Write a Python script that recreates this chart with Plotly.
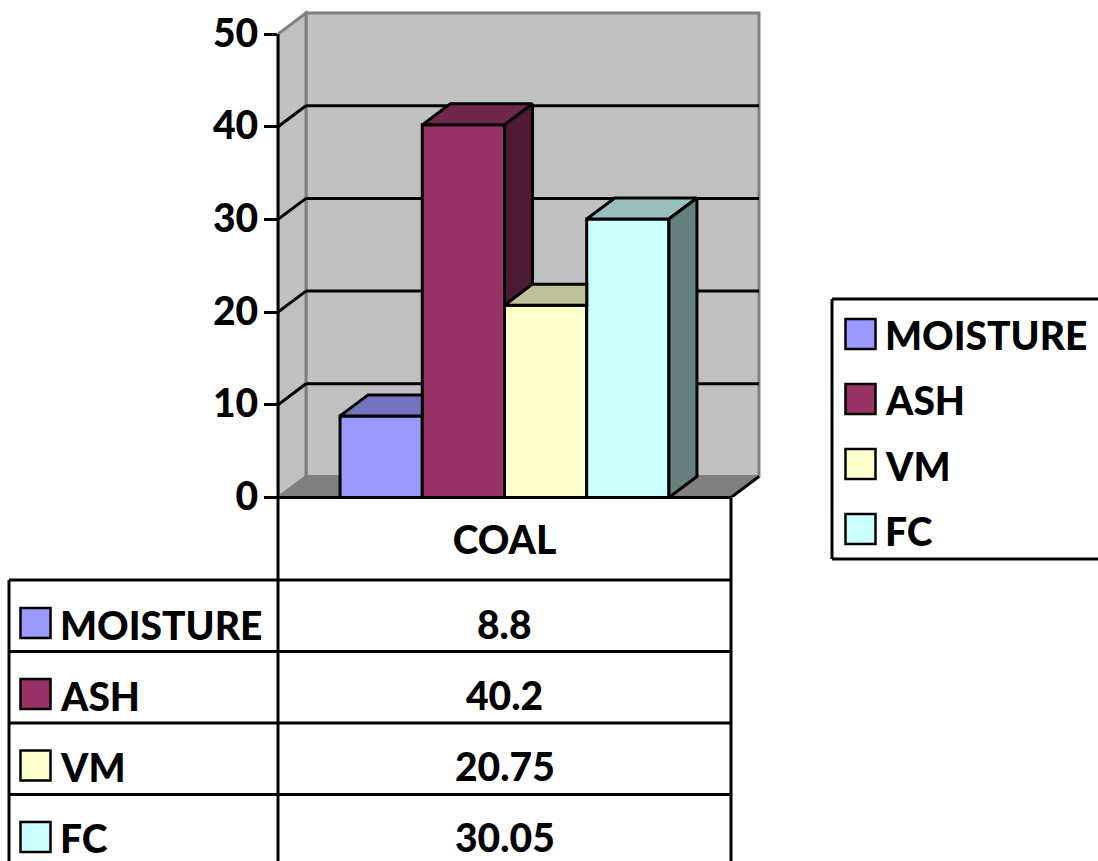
import plotly.graph_objects as go

# Proximate analysis of coal
category = "COAL"
series_names = ["MOISTURE", "ASH", "VM", "FC"]
series_values = [8.8, 40.2, 20.75, 30.05]
value_labels = ["8.8", "40.2", "20.75", "30.05"]
series_colors = ["#9999FF", "#993366", "#FFFFCC", "#CCFFFF"]
top_colors = ["#7373BF", "#73264D", "#BFBF99", "#99BFBF"]
side_colors = ["#4D4D80", "#4D1A33", "#808066", "#668080"]
y_ticks = [0, 10, 20, 30, 40, 50]

W, H = 1098, 861
FONT = dict(family="Lato", size=39, color="#000000", weight=900)
EDGE = 3

# Plot frame in page pixels
x0_px, x1_px = 278.0, 731.0          # front of the floor
y0_px, y50_px = 497.5, 34.0          # value 0 and value 50 on the front plane
depth_x_px, depth_y_px = 28.0, 21.0  # oblique offset of the back wall
right_px, top_px = 766.0, 8.0        # limits of the plotting area

px_per_cat = x1_px - x0_px
px_per_val = (y0_px - y50_px) / 50.0
dx = depth_x_px / px_per_cat
dy = depth_y_px / px_per_val
x_lo, x_hi = -0.5, (right_px - x0_px) / px_per_cat - 0.5
y_hi = (y0_px - top_px) / px_per_val
bargap = 0.274
bar_w = (1 - bargap) / len(series_values)


def px(x):
    return x / W


def py(y):
    return 1 - y / H


def path(points):
    return "M " + " L ".join(f"{a:.5f} {b:.5f}" for a, b in points) + " Z"


fig = go.Figure()

# Front faces
for name, value, color in zip(series_names, series_values, series_colors):
    fig.add_trace(go.Bar(
        x=[0], y=[value], name=name, marker=dict(color=color, line=dict(color="#000000", width=EDGE)),
        cliponaxis=False, showlegend=False,
    ))


def face(xs, ys, color):
    fig.add_trace(go.Scatter(
        x=xs + xs[:1], y=ys + ys[:1], mode="lines", fill="toself", fillcolor=color,
        line=dict(color="#000000", width=EDGE), hoverinfo="skip", showlegend=False,
        cliponaxis=False,
    ))


# Top and side faces, trimmed where the next bar stands in front of them
n = len(series_values)
for i, value in enumerate(series_values):
    left = -(1 - bargap) / 2 + i * bar_w
    right = left + bar_w
    nxt = series_values[i + 1] if i + 1 < n else 0
    if nxt >= value:
        face([left, left + dx, right, right], [value, value + dy, value + dy, value], top_colors[i])
    else:
        face([left, left + dx, right + dx, right], [value, value + dy, value + dy, value], top_colors[i])
        face([right, right + dx, right + dx, right], [value, value + dy, nxt + dy, nxt], side_colors[i])

shapes = []
GRAY = dict(color="#808080", width=3)
BLACK = dict(color="#000000", width=3)

# Walls, floor and gridlines behind the bars
fx0, fx1 = -0.5, 0.5
shapes.append(dict(type="path", xref="x", yref="y", layer="below", fillcolor="#C0C0C0", line=GRAY,
                   path=path([(fx0 + dx, dy), (fx1 + dx, dy), (fx1 + dx, 50 + dy), (fx0 + dx, 50 + dy)])))
shapes.append(dict(type="path", xref="x", yref="y", layer="below", fillcolor="#C0C0C0", line=GRAY,
                   path=path([(fx0, 0), (fx0 + dx, dy), (fx0 + dx, 50 + dy), (fx0, 50)])))
shapes.append(dict(type="path", xref="x", yref="y", layer="below", fillcolor="#808080", line=dict(color="#808080", width=1),
                   path=path([(fx0, 0), (fx1, 0), (fx1 + dx, dy), (fx0 + dx, dy)])))
shapes.append(dict(type="line", xref="x", yref="y", layer="below", x0=fx1, y0=0, x1=fx1 + dx, y1=dy, line=BLACK))
for t in y_ticks[1:-1]:
    shapes.append(dict(type="line", xref="x", yref="y", layer="below",
                       x0=fx0, y0=t, x1=fx0 + dx, y1=t + dy, line=BLACK))
    shapes.append(dict(type="line", xref="x", yref="y", layer="below",
                       x0=fx0 + dx, y0=t + dy, x1=fx1 + dx, y1=t + dy, line=BLACK))


def rule(x_a, y_a, x_b, y_b):
    shapes.append(dict(type="line", xref="paper", yref="paper", layer="above",
                       x0=px(x_a), y0=py(y_a), x1=px(x_b), y1=py(y_b), line=BLACK))


def swatch(x_a, y_a, color):
    shapes.append(dict(type="rect", xref="paper", yref="paper", layer="above",
                       x0=px(x_a), y0=py(y_a), x1=px(x_a + 30), y1=py(y_a + 30),
                       fillcolor=color, line=dict(color="#000000", width=2.5)))


annotations = []


def label(text, x, y, anchor):
    annotations.append(dict(text=text, xref="paper", yref="paper", x=px(x), y=py(y),
                            xanchor=anchor, yanchor="middle", showarrow=False, font=FONT))


# Value axis line and data table rules
rule(x0_px, y50_px, x0_px, H + 2)
rule(x0_px, y0_px, x1_px, y0_px)
rule(x1_px, y0_px, x1_px, H + 2)
row_rules = [580, 651.5, 723, 794.5]
rule(9, row_rules[0], 9, H + 2)
for y in row_rules:
    rule(9, y, x1_px, y)

row_swatch_tops = [608, 679, 750.5, 822]
row_text_y = [625, 696, 767, 838]
for i, name in enumerate(series_names):
    swatch(20.5, row_swatch_tops[i], series_colors[i])
    label(name, 58, row_text_y[i], "left")
    label(value_labels[i], (x0_px + x1_px) / 2, row_text_y[i] - 1, "center")

# Legend box, open past the right side of the page
legend_top, legend_bottom, legend_left = 299, 559, 832
rule(legend_left, legend_top, W + 2, legend_top)
rule(legend_left, legend_bottom, W + 2, legend_bottom)
rule(legend_left, legend_top, legend_left, legend_bottom)
legend_swatch_tops = [319, 384, 449, 514]
legend_text_y = [335, 400, 466, 531]
for i, name in enumerate(series_names):
    swatch(845.5, legend_swatch_tops[i], series_colors[i])
    label(name, 883, legend_text_y[i], "left")

fig.update_layout(
    width=W, height=H, autosize=False, margin=dict(l=0, r=0, t=0, b=0),
    paper_bgcolor="#FFFFFF", plot_bgcolor="rgba(0,0,0,0)",
    barmode="group", bargap=bargap, bargroupgap=0,
    shapes=shapes, annotations=annotations, showlegend=False,
    xaxis=dict(domain=[px(x0_px), px(right_px)], range=[x_lo, x_hi], tickmode="array",
               tickvals=[0], ticktext=[category], ticks="", showgrid=False, zeroline=False,
               showline=False, tickfont=FONT, ticklabelstandoff=16, fixedrange=True, automargin=False),
    yaxis=dict(domain=[py(y0_px), py(top_px)], range=[0, y_hi], tickmode="array",
               tickvals=y_ticks, ticks="outside", ticklen=13, tickwidth=3, tickcolor="#000000",
               showgrid=False, zeroline=False, showline=False, tickfont=FONT, fixedrange=True,
               automargin=False, ticklabelstandoff=-2, ticklabelshift=-1),
)

fig.write_html("out.html", config=dict(displayModeBar=False))
